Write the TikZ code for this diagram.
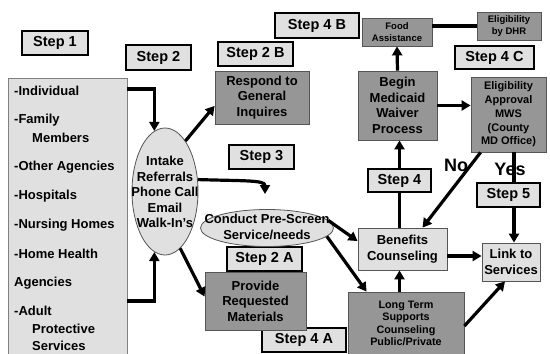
\documentclass[tikz,border=0pt]{standalone}
\usepackage{fontspec}
\setmainfont{Liberation Sans}
\usetikzlibrary{arrows.meta,calc,shapes.geometric}
\definecolor{lightfill}{RGB}{224,224,224}
\definecolor{darkfill}{RGB}{150,150,150}
\definecolor{edgegray}{RGB}{85,85,85}
\begin{document}
\begin{tikzpicture}[x=1pt,y=-1pt,
  wh/.style 2 args={minimum width=#1,minimum height=#2},
  stepbox/.style={draw=black,line width=1.8pt,fill=lightfill,inner sep=0pt,
    font=\fontsize{14.5}{16}\selectfont\bfseries},
  darkbox/.style={draw=edgegray,line width=0.8pt,fill=darkfill,align=center,inner sep=0pt},
  lightbox/.style={draw=edgegray,line width=0.8pt,fill=lightfill,align=center,inner sep=0pt},
  oval/.style={ellipse,draw=edgegray,line width=0.8pt,fill=lightfill,inner sep=0pt},
  fbig/.style={font=\fontsize{13}{15.5}\selectfont\bfseries},
  fmid/.style={font=\fontsize{11}{13.7}\selectfont\bfseries},
  flt/.style={font=\fontsize{10.8}{12.5}\selectfont\bfseries},
  fsmall/.style={font=\fontsize{9.5}{12}\selectfont\bfseries},
  srctext/.style={anchor=west,inner sep=0pt,font=\fontsize{13}{15}\selectfont\bfseries},
  arr/.style={line width=3.2pt,-{Triangle[length=9pt,width=10pt]}},
  plainline/.style={line width=3.2pt},
  yesno/.style={inner sep=0pt,font=\fontsize{18}{20}\selectfont\bfseries},
]
\clip (0,0) rectangle (550,354);
\fill[white] (0,0) rectangle (550,354);

% step labels
\node[stepbox,wh={66pt}{24pt}] (step1) at (55,43) {Step 1};
\node[stepbox,wh={65pt}{25pt}] (step2) at (158.5,57.5) {Step 2};
\node[stepbox,wh={75pt}{24pt}] (step2b) at (255.5,54) {Step 2 B};
\node[stepbox,wh={65pt}{24pt}] (step3) at (261.5,157) {Step 3};
\node[stepbox,wh={75pt}{24pt}] (step2a) at (264.5,259) {Step 2 A};
\node[stepbox,wh={84pt}{24pt}] (step4a) at (304,340) {Step 4 A};
\node[stepbox,wh={63pt}{23pt}] (step4) at (399.5,180.5) {Step 4};
\node[stepbox,wh={63pt}{24pt}] (step5) at (508.5,195) {Step 5};
\node[stepbox,wh={84pt}{25pt}] (step4b) at (317,25.5) {Step 4 B};
\node[stepbox,wh={79pt}{23pt}] (step4c) at (494.5,57.5) {Step 4 C};

% source box
\node[draw=gray,line width=0.8pt,fill=lightfill,wh={119pt}{282pt}] (src) at (67.5,219) {};
\foreach \t/\xx/\yy [count=\i] in {{-Individual}/14/91,{-Family}/14/120,{Members}/32/138,
  {-Other Agencies}/14/167,{-Hospitals}/14/196,{-Nursing Homes}/14/225,{-Home Health}/14/254,
  {Agencies}/14/283,{-Adult}/14/311,{Protective}/32/329,{Services}/32/346}
  \node[srctext] (src\i) at (\xx,\yy) {\t};

% ellipses
\node[oval,wh={66pt}{127pt}] (intake) at (165,191.5) {};
\node[fbig,align=center,inner sep=0pt] (intaketxt) at (165,192) {Intake\\Referrals\\Phone Call\\Email\\Walk-In's};
\node[oval,wh={133pt}{37pt}] (conduct) at (267,228) {};
\node[fbig,align=center,inner sep=0pt] (conducttxt) at (267,227) {Conduct Pre-Screen\\Service/needs};

% dark boxes
\node[darkbox,fbig,wh={94pt}{53pt}] (respond) at (262,97.5) {Respond to\\General\\Inquires};
\node[darkbox,fbig,wh={101pt}{58pt}] (provide) at (255.5,301) {Provide\\Requested\\Materials};
\node[darkbox,flt,wh={116pt}{68pt}] (longterm) at (406,326) {};
\node[flt,align=center,inner sep=0pt] (longtermtxt) at (406,323.5) {Long Term\\Supports\\Counseling\\Public/Private};
\node[darkbox,fbig,wh={79pt}{69pt}] (begin) at (397.5,105.5) {Begin\\Medicaid\\Waiver\\Process};
\node[darkbox,fsmall,wh={70pt}{28pt}] (food) at (397,32) {Food\\Assistance};
\node[darkbox,fsmall,wh={64pt}{28pt}] (dhr) at (509,26) {Eligibility\\by DHR};
\node[darkbox,fmid,wh={75pt}{75pt}] (approval) at (508.5,114.5) {Eligibility\\Approval\\MWS\\(County\\MD Office)};

% light boxes
\node[lightbox,fbig,wh={89pt}{42pt}] (benefits) at (402.5,249) {Benefits\\Counseling};
\node[lightbox,fbig,wh={58pt}{38pt}] (link) at (511,262) {Link to\\Services};

% connectors
\draw[arr] ([yshift=130pt]src.east) -| (intake.100);
\draw[arr] ([yshift=-82pt]src.east) -| (intake.-100);
\draw[arr] (intake.68) -- (respond.190);
\coordinate (s3tip) at (265,194);
\draw[arr] (intake.20) .. controls (245,181) and (265,180) .. (s3tip);
\draw[arr] (intake.-75) -- (provide.175);
\draw[arr] (conduct.7) -- (benefits.170);
\draw[arr] (conduct.-8) -- ([xshift=19pt]longterm.north west);
\draw[arr] (longterm.north -| step4) -- (benefits.south -| step4);
\draw[plainline] (benefits.north -| step4) -- (step4.south);
\draw[arr] (step4.north) -- (begin.south -| step4);
\draw[arr] (begin.north) -- (food.south);
\draw[plainline] (food.east |- dhr.west) -- (dhr.west);
\draw[arr] (begin.east) -- (begin.east -| approval.west);
\draw[arr] ([yshift=-7pt]benefits.east) -- ([yshift=-7pt]benefits.east -| link.west);
\draw[arr] (longterm.east) -- ([xshift=-6pt]link.south);
\node[yesno] (no) at (456,165) {No};
\node[yesno] (yes) at (510,169) {Yes};
\draw[arr] ([xshift=10pt]approval.south west) -- ([xshift=20pt]benefits.north);
\coordinate (yesx) at ($(approval.south)+(5.5,0)$);
\draw[plainline] (yesx) -- (yesx |- step5.north);
\draw[arr] (yesx |- step5.south) -- (yesx |- link.north);
\end{tikzpicture}
\end{document}
